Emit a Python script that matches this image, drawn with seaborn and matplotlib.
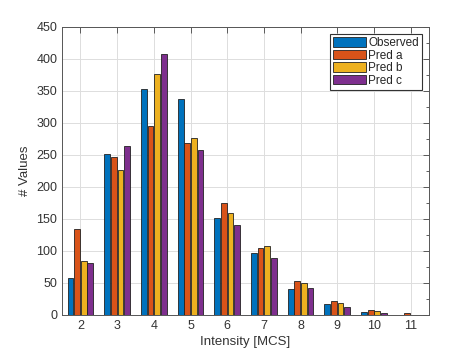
import matplotlib
matplotlib.use("Agg")
import matplotlib.pyplot as plt
import seaborn as sns
import pandas as pd
from matplotlib.ticker import MultipleLocator

intensity = [2, 3, 4, 5, 6, 7, 8, 9, 10, 11]
observed = [58, 252, 353, 337, 151, 96, 41, 17, 4, 0]
pred_a = [135, 246, 296, 268, 175, 104, 53, 22, 8, 3]
pred_b = [84, 227, 377, 276, 160, 107, 50, 19, 6, 0]
pred_c = [81, 264, 407, 257, 140, 89, 42, 13, 3, 0]
series = ["Observed", "Pred a", "Pred b", "Pred c"]
colors = ["#0072BD", "#D95319", "#EDB120", "#7E2F8E"]

rows = []
for name, vals in zip(series, [observed, pred_a, pred_b, pred_c]):
    for x, v in zip(intensity, vals):
        rows.append({"Intensity": str(x), "Series": name, "Count": v})
df = pd.DataFrame(rows)

sns.set_theme(style="white")
plt.rcParams['font.family'] = ['Liberation Sans', 'DejaVu Sans']
fig = plt.figure(figsize=(4.74, 3.55), dpi=100)
ax = fig.add_axes([0.131, 0.113, 0.774, 0.811])

sns.barplot(data=df, x="Intensity", y="Count", hue="Series",
            order=[str(i) for i in intensity], hue_order=series,
            palette=colors, width=0.72, gap=0.12, edgecolor="#222222",
            linewidth=0.6, saturation=1, ax=ax, zorder=3)

ax.set_xlim(-0.5, 9.5)
ax.set_ylim(0, 450)
ax.yaxis.set_major_locator(MultipleLocator(50))
ax.yaxis.set_minor_locator(MultipleLocator(25))
ax.grid(True, which="major", color="#dddddd", linewidth=0.7, zorder=0)
ax.set_axisbelow(True)
for s in ax.spines.values():
    s.set_color("#555555")
    s.set_linewidth(0.7)
ax.tick_params(axis="both", which="both", direction="in", top=True, right=True,
               colors="#444444", labelcolor="#333333", labelsize=9, width=0.6)
ax.tick_params(which="major", length=4)
ax.tick_params(which="minor", length=2, bottom=False, top=False)
ax.set_xlabel("Intensity [MCS]", fontsize=9.5, color="#333333", labelpad=3)
ax.set_ylabel("# Values", fontsize=9.5, color="#333333", labelpad=4)

leg = ax.legend(loc="upper right", fontsize=8.5, frameon=True, fancybox=False,
                handlelength=2.8, handleheight=0.85, handletextpad=0.2,
                labelspacing=0.05, borderpad=0.25, borderaxespad=0.6)
leg.get_frame().set_edgecolor("#333333")
leg.get_frame().set_linewidth(0.8)
leg.get_frame().set_alpha(1)

fig.savefig("out.png", dpi=100)
